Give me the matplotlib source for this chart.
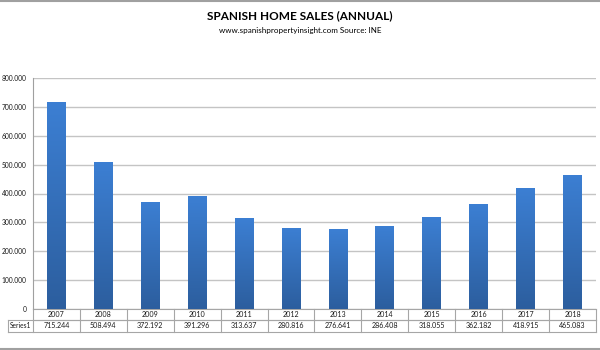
import matplotlib
matplotlib.use("Agg")
import matplotlib.pyplot as plt
import numpy as np
from matplotlib.lines import Line2D
from matplotlib.colors import LinearSegmentedColormap
import matplotlib.transforms as mtransforms

years = ["2007", "2008", "2009", "2010", "2011", "2012", "2013", "2014", "2015", "2016", "2017", "2018"]
sales = [715244, 508494, 372192, 391296, 313637, 280816, 276641, 286408, 318055, 362182, 418915, 465083]
series_name = "Series1"
yticks = [0, 100000, 200000, 300000, 400000, 500000, 600000, 700000, 800000]

def fmt(v):
    return "{:,}".format(int(v)).replace(",", ".")

plt.rcParams['font.family'] = ['Lato', 'DejaVu Sans']
FS = 5.1
TC = "#1a1a1a"

fig = plt.figure(figsize=(6, 3.5), dpi=100)
W, H = 600, 350
ax = fig.add_axes([33 / W, 1 - 309 / H, (596 - 33) / W, (309 - 78) / H])

x = np.arange(len(years))
bars = ax.bar(x, sales, width=0.4, color="#3470c0", zorder=3)
cmap = LinearSegmentedColormap.from_list("g", ["#2c5e9e", "#3c7fd3"])
grad = np.linspace(0, 1, 256).reshape(-1, 1)
for b in bars:
    bx, by = b.get_x(), b.get_y()
    bw, bh = b.get_width(), b.get_height()
    im = ax.imshow(grad, cmap=cmap, origin="lower", aspect="auto",
                   extent=[bx, bx + bw, by, by + bh], zorder=4)
    im.set_clip_path(b)

ax.set_xlim(-0.5, len(years) - 0.5)
ax.set_ylim(0, 800000)
ax.set_yticks(yticks)
ax.set_yticklabels([fmt(v) for v in yticks], fontsize=4.8, color=TC)
ax.set_xticks([])
ax.tick_params(axis="y", length=0, pad=4.8)
ax.grid(axis="y", color="#c4c4c4", linewidth=1.0, zorder=0)
for s in ["top", "right", "bottom"]:
    ax.spines[s].set_visible(False)
ax.spines["left"].set_color("#a0a0a0")
ax.spines["left"].set_linewidth(0.8)

# data table
ah = (309 - 78)
r1 = -11 / ah
r2 = -23 / ah
trans = mtransforms.blended_transform_factory(ax.transData, ax.transAxes)
lc = "#a6a6a6"
lw = 0.8
x0, x1 = -0.5, len(years) - 0.5
px_per_cat = (596 - 33) / len(years)
xl = -0.5 - (33 - 8) / px_per_cat
for yy in [0, r1]:
    ax.add_line(Line2D([x0, x1], [yy, yy], transform=trans, color=lc, lw=lw, clip_on=False))
for yy in [r1, r2]:
    ax.add_line(Line2D([xl, x1], [yy, yy], transform=trans, color=lc, lw=lw, clip_on=False))
for i in range(len(years) + 1):
    ax.add_line(Line2D([i - 0.5, i - 0.5], [0, r2], transform=trans, color=lc, lw=lw, clip_on=False))
ax.add_line(Line2D([xl, xl], [r1, r2], transform=trans, color=lc, lw=lw, clip_on=False))
for i, (yr, v) in enumerate(zip(years, sales)):
    ax.text(i, r1 / 2, yr, transform=trans, ha="center", va="center", fontsize=FS, color=TC)
    ax.text(i, (r1 + r2) / 2, fmt(v), transform=trans, ha="center", va="center", fontsize=FS, color=TC)
ax.text((xl - 0.5) / 2, (r1 + r2) / 2, series_name, transform=trans, ha="center", va="center", fontsize=4.8, color=TC)

fig.text(0.5, 1 - 16 / H, "SPANISH HOME SALES (ANNUAL)", ha="center", va="center",
         fontsize=8.5, fontweight="bold", color="#000000")
fig.text(0.5, 1 - 31 / H, "www.spanishpropertyinsight.com Source: INE", ha="center", va="center",
         fontsize=5.8, color="#000000")

fig.add_artist(Line2D([0, 1], [1 - 1 / H, 1 - 1 / H], transform=fig.transFigure, color="#a0a0a0", lw=1.5))
fig.add_artist(Line2D([0, 1], [1 - 349 / H, 1 - 349 / H], transform=fig.transFigure, color="#a0a0a0", lw=1.5))

fig.savefig("out.png", dpi=100)
